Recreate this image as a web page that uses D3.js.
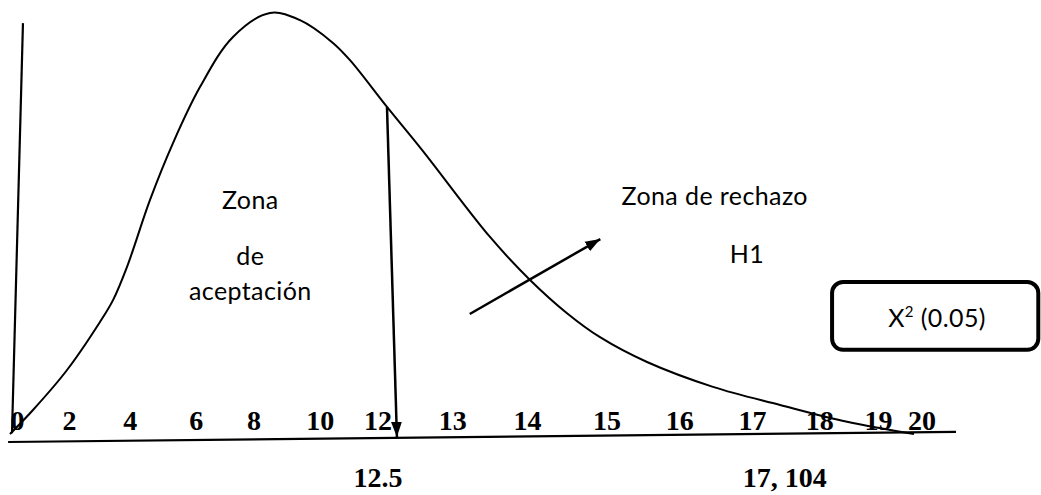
<!DOCTYPE html>
<html>
<head>
<meta charset="utf-8">
<script src="https://cdn.jsdelivr.net/npm/d3@7"></script>
<style>
  body { margin: 0; background: #fff; }
  svg { display: block; }
  .tick-label { font-family: "Liberation Serif", "Times New Roman", serif; font-weight: bold; font-size: 28px; }
  .note { font-family: Lato, "Noto Sans", sans-serif; font-size: 25px; letter-spacing: 0.4px; }
</style>
</head>
<body>
<svg id="chart" width="1041" height="495"></svg>
<script>
// axis labels as they are printed under the sketch, and where each sits along the axis (0-100)
const tickLabels = ["0", "2", "4", "6", "8", "10", "12", "13", "14", "15", "16", "17", "18", "19", "20"];
const tickAt = [0.8, 6.3, 12.7, 19.7, 25.8, 32.8, 38.9, 46.8, 54.7, 63.1, 70.8, 78.5, 85.6, 91.8, 96.4];

// chi-square shaped curve, axis position vs relative density (peak = 1)
const curveX = [0, 2.43, 6.03, 9.51, 10.89, 12.37, 14.8, 17.23, 20.08, 23.57, 27.48, 30.66, 34.14, 35.94, 39.85, 43.55, 50.74, 54.97, 58.88, 62.37, 67.34, 74.31, 81.4, 88.48, 95.56];
const curveY = [0, 0.057, 0.152, 0.266, 0.318, 0.397, 0.556, 0.691, 0.824, 0.943, 1.0, 0.983, 0.929, 0.888, 0.777, 0.675, 0.468, 0.366, 0.287, 0.230, 0.171, 0.112, 0.069, 0.029, 0];

// critical values written under the axis
const critLabels = ["12.5", "17, 104"];
const critAt = [38.9, 81.9];

const svg = d3.select("#chart");

const x = d3.scaleLinear().domain([0, 100]).range([10, 956]);
const y = d3.scaleLinear().domain([0, 1]).range([434, 13]);

const defs = svg.append("defs");
defs.append("marker")
    .attr("id", "head")
    .attr("viewBox", "0 0 10 10")
    .attr("refX", 10).attr("refY", 5)
    .attr("markerWidth", 6).attr("markerHeight", 6)
    .attr("markerUnits", "strokeWidth")
    .attr("orient", "auto")
  .append("path")
    .attr("d", "M0,1.4 L10,5 L0,8.6 Z")
    .attr("fill", "#000");

const line = d3.line().x(d => x(d[0])).y(d => y(d[1]));

// left vertical axis (leaning a little)
svg.append("path")
    .attr("d", line([[1.37, 0.976], [0.21, 0.002]]))
    .attr("stroke", "#000").attr("stroke-width", 2.2).attr("fill", "none");

// horizontal axis
svg.append("path")
    .attr("d", line([[-0.2, -0.019], [100, 0.005]]))
    .attr("stroke", "#000").attr("stroke-width", 2.2).attr("fill", "none");

// the curve
let pts = curveX.map((v, i) => [v, curveY[i]]);
svg.append("path")
    .attr("d", d3.line().x(d => x(d[0])).y(d => y(d[1])).curve(d3.curveCatmullRom.alpha(0.5))(pts))
    .attr("stroke", "#000").attr("stroke-width", 2).attr("fill", "none");

// tick labels
svg.append("g").selectAll("text").data(tickLabels).enter().append("text")
    .attr("class", "tick-label")
    .attr("x", (d, i) => x(tickAt[i]))
    .attr("y", y(0.0095))
    .attr("text-anchor", "middle")
    .text(d => d);

// critical value labels
svg.append("g").selectAll("text").data(critLabels).enter().append("text")
    .attr("class", "tick-label")
    .attr("x", (d, i) => x(critAt[i]))
    .attr("y", y(-0.125))
    .attr("text-anchor", "middle")
    .text(d => d);

// arrow down from the curve to the axis
svg.append("path")
    .attr("d", line([[39.85, 0.777], [40.9, -0.007]]))
    .attr("stroke", "#000").attr("stroke-width", 2.5).attr("fill", "none")
    .attr("marker-end", "url(#head)");

// arrow pointing to rejection zone
svg.append("path")
    .attr("d", line([[48.6, 0.285], [62.4, 0.463]]))
    .attr("stroke", "#000").attr("stroke-width", 2.5).attr("fill", "none")
    .attr("marker-end", "url(#head)");

// notes
const notes = [
    {t: "Zona", u: 25.4, d: 0.534},
    {t: "de", u: 25.4, d: 0.401},
    {t: "aceptación", u: 25.4, d: 0.318},
    {t: "Zona de rechazo", u: 74.5, d: 0.544},
    {t: "H1", u: 77.9, d: 0.406}
];
svg.append("g").selectAll("text").data(notes).enter().append("text")
    .attr("class", "note")
    .attr("x", d => x(d.u))
    .attr("y", d => y(d.d))
    .attr("text-anchor", "middle")
    .text(d => d.t);

// box with X^2 (0.05)
svg.append("rect")
    .attr("x", x(86.9)).attr("y", y(0.361))
    .attr("width", x(108.7) - x(86.9)).attr("height", y(0.2) - y(0.361))
    .attr("rx", 11).attr("ry", 11)
    .attr("fill", "#fff").attr("stroke", "#000").attr("stroke-width", 4);

let boxText = svg.append("text")
    .attr("class", "note")
    .attr("x", x(98.0)).attr("y", y(0.254))
    .attr("text-anchor", "middle");
boxText.append("tspan").text("X");
boxText.append("tspan").attr("dy", -10).attr("font-size", 15).text("2");
boxText.append("tspan").attr("dy", 10).text(" (0.05)");
</script>
</body>
</html>
